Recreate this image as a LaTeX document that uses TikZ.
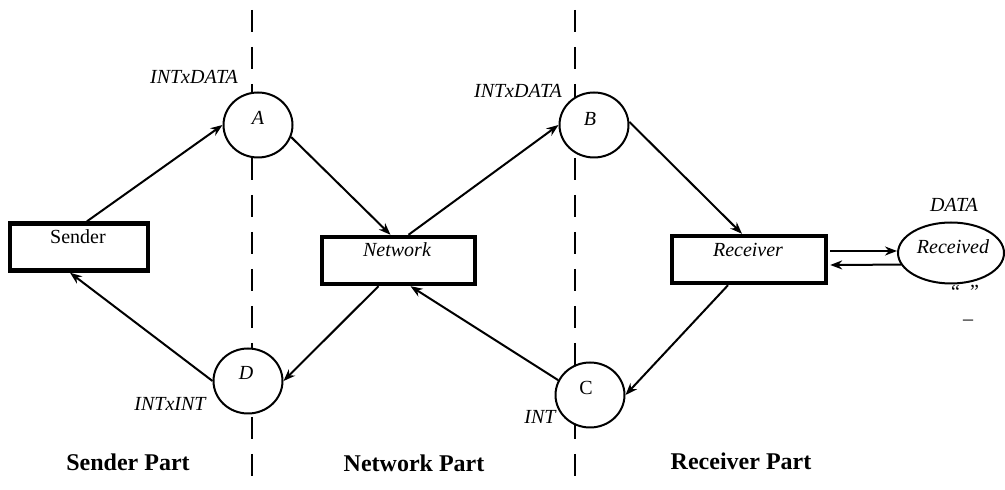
\documentclass[tikz,border=0pt]{standalone}
\usepackage{fontspec}
\setmainfont{Liberation Serif}
\usetikzlibrary{arrows.meta,calc,shapes.geometric}
\begin{document}
\begin{tikzpicture}[x=0.5pt,y=-0.5pt,
 tbox/.style={draw,line width=2.2pt,minimum width=#1,minimum height=23.5pt,inner sep=0pt},
 pnode/.style={draw,ellipse,fill=white,line width=1pt,minimum width=34.5pt,minimum height=32.5pt,inner sep=0pt},
 flow/.style={line width=1pt,-{Stealth[length=6pt,width=4.5pt]}},
 divider/.style={dash pattern=on 11pt off 7.5pt,line width=0.6pt},
 lbl/.style={font=\itshape\fontsize{10}{12}\selectfont,inner sep=0pt},
 txt/.style={font=\fontsize{10}{12}\selectfont,inner sep=0pt},
 part/.style={font=\bfseries\fontsize{12}{14}\selectfont,inner sep=0pt}]
\useasboundingbox (0,0) rectangle (1005,490);
% dividers
\coordinate (t1) at (252,10); \coordinate (b1) at (252,490);
\coordinate (t2) at (575,10); \coordinate (b2) at (575,487);
\draw[divider] (t1) -- (b1);
\draw[divider] (t2) -- (b2);
% transitions
\node[tbox=69pt] (S) at (79,247) {};
\node[tbox=76.5pt] (N) at (398.5,260.5) {};
\node[tbox=77pt] (R) at (749,259.5) {};
% places
\node[pnode] (A) at (258,125) {};
\node[pnode] (B) at (594,125) {};
\node[pnode] (D) at (248,381) {};
\node[pnode] (C) at (590,395) {};
\node[pnode,minimum width=53pt,minimum height=30.5pt] (Rd) at (951,253) {};
% texts
\node[txt] (tS) at (78,237) {Sender};
\node[lbl] (tN) at (397,250) {Network};
\node[lbl] (tR) at (748,250) {Receiver};
\node[lbl] (tRd) at (953,247) {Received};
\node[lbl] (tA) at (258,118) {A};
\node[lbl] (tB) at (590,119) {B};
\node[lbl] (tD) at (246,373) {D};
\node[txt] (tC) at (586,388) {C};
\node[lbl] (lA) at (194,77) {INTxDATA};
\node[lbl] (lB) at (518,91) {INTxDATA};
\node[lbl] (lRd) at (954,205) {DATA};
\node[lbl] (lD) at (170,404) {INTxINT};
\node[lbl] (lC) at (540,417) {INT};
\node[txt] (q) at (965,292) {``\ \ ''};
\node[txt] (us) at (968,320) {\_};
\node[part] (p1) at (128,462) {Sender Part};
\node[part] (p2) at (414,463) {Network Part};
\node[part] (p3) at (741,461) {Receiver Part};
% arcs
\draw[flow] ($(S.north)+(8,0)$) -- (A.west);
\draw[flow] (D.west) -- ($(S.south)+(-9,0)$);
\draw[flow] (A.-20) -- ($(N.north)+(-8,0)$);
\draw[flow] ($(N.north)+(10,0)$) -- (B.west);
\draw[flow] (B.5) -- ($(R.north)+(-7,0)$);
\draw[flow] ($(N.south)+(-20,0)$) -- (D.east);
\draw[flow] (C.155) -- ($(N.south)+(12,0)$);
\draw[flow] ($(R.south)+(-21,0)$) -- (C.east);
\coordinate (r1) at ($(R.east)+(2,-8.5)$);
\coordinate (r2) at ($(R.east)+(2,5.5)$);
\draw[flow] (r1) -- (Rd.west |- r1);
\draw[flow] (Rd.193) -- (r2);
\end{tikzpicture}
\end{document}
